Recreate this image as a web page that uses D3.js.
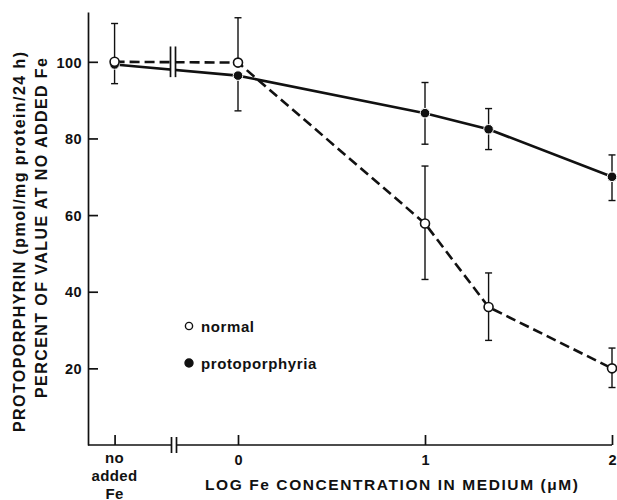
<!DOCTYPE html>
<html>
<head>
<meta charset="utf-8">
<script src="https://d3js.org/d3.v7.min.js"></script>
<style>
  body { margin: 0; background: #fff; }
  text { font-family: "Liberation Sans", Arial, sans-serif; font-weight: bold; fill: #111; }
  .axis path, .axis line { stroke: #111; stroke-width: 1.7; }
</style>
</head>
<body>
<div id="chart"></div>
<script>
// log Fe concentration; null = "no added Fe"
var xVals = [null, 0, 1, 1.34, 2];
var normal = [100, 99.8, 57.8, 36, 20];
var normalHi = [110, 111.5, 72.8, 44.9, 25.3];
var normalLo = [100, 99.8, 43.2, 27.3, 15];
var proto = [99.3, 96.4, 86.6, 82.4, 70];
var protoHi = [99.3, 96.4, 94.6, 87.8, 75.7];
var protoLo = [94.3, 87.2, 78.5, 77.1, 63.8];
var yTicks = [20, 40, 60, 80, 100];
var xTicks = [0, 1, 2];
var noAddedAt = -0.66;

var W = 617, H = 500;
var svg = d3.select("#chart").append("svg").attr("width", W).attr("height", H);

var x = d3.scaleLinear().domain([0, 2]).range([238, 612]);
var y = d3.scaleLinear().domain([0, 113]).range([445, 12]);
function xp(v) { return x(v === null ? noAddedAt : v); }

// y axis
svg.append("g").attr("class", "axis").attr("transform", "translate(88,0)")
  .call(d3.axisLeft(y).tickValues(yTicks).tickSize(-10).tickSizeOuter(0).tickPadding(6))
  .call(function(g) {
    g.selectAll("text").style("font-size", "14.5px").attr("dy", "0.36em").attr("letter-spacing", "0.4");
  });

// x axis
var xa = svg.append("g").attr("class", "axis").attr("transform", "translate(0,445)")
  .call(d3.axisBottom(x).tickValues([noAddedAt].concat(xTicks)).tickSize(-10).tickSizeOuter(0)
    .tickFormat(function(d) { return d === noAddedAt ? "" : d; }));
xa.select(".domain").attr("d", "M88,0H612");
xa.selectAll("text").style("font-size", "14.5px").attr("y", 20).attr("dy", 0);

// "no added Fe"
["no", "added", "Fe"].forEach(function(s, i) {
  svg.append("text").attr("x", xp(null)).attr("y", 463 + i * 18)
    .attr("text-anchor", "middle").style("font-size", "15px").attr("letter-spacing", "0.4").text(s);
});

// axis titles
svg.append("text").attr("x", 205).attr("y", 490)
  .style("font-size", "15.5px").attr("textLength", 373).attr("lengthAdjust", "spacing")
  .text("LOG Fe CONCENTRATION IN MEDIUM (\u03bcM)");
svg.append("text").attr("transform", "translate(25,432) rotate(-90)")
  .style("font-size", "16px").attr("textLength", 380).attr("lengthAdjust", "spacing")
  .text("PROTOPORPHYRIN (pmol/mg protein/24 h)");
svg.append("text").attr("transform", "translate(47,398) rotate(-90)")
  .style("font-size", "16px").attr("textLength", 340).attr("lengthAdjust", "spacing")
  .text("PERCENT OF VALUE AT NO ADDED Fe");

// lines
var line = d3.line().x(function(d, i) { return xp(xVals[i]); }).y(function(d) { return y(d); });
svg.append("path").datum(proto).attr("d", line).attr("fill", "none")
  .attr("stroke", "#111").attr("stroke-width", 2.6);
svg.append("path").datum(normal).attr("d", line).attr("fill", "none")
  .attr("stroke", "#111").attr("stroke-width", 2.6).attr("stroke-dasharray", "10,5");

// error bars
function errBars(hi, lo) {
  var g = svg.append("g").attr("stroke", "#111").attr("stroke-width", 1.4);
  xVals.forEach(function(v, i) {
    var cx = xp(v);
    if (hi[i] === lo[i]) return;
    g.append("line").attr("x1", cx).attr("x2", cx).attr("y1", y(hi[i])).attr("y2", y(lo[i]));
    g.append("line").attr("x1", cx - 3.5).attr("x2", cx + 3.5).attr("y1", y(hi[i])).attr("y2", y(hi[i]));
    g.append("line").attr("x1", cx - 3.5).attr("x2", cx + 3.5).attr("y1", y(lo[i])).attr("y2", y(lo[i]));
  });
}
errBars(normalHi, normalLo);
errBars(protoHi, protoLo);

// axis break marks
function breakMark(bx, y1, y2) {
  svg.append("rect").attr("x", bx - 2.5).attr("y", y1).attr("width", 5).attr("height", y2 - y1).attr("fill", "#fff");
  [bx - 2.5, bx + 2.5].forEach(function(px) {
    svg.append("line").attr("x1", px).attr("x2", px).attr("y1", y1).attr("y2", y2)
      .attr("stroke", "#111").attr("stroke-width", 1.7);
  });
}
breakMark(174, 437, 453);
breakMark(173, y(104), y(96));

// markers
svg.selectAll(".pf").data(proto).enter().append("circle")
  .attr("cx", function(d, i) { return xp(xVals[i]); }).attr("cy", function(d) { return y(d); })
  .attr("r", 4.8).attr("fill", "#111").attr("stroke", "#fff").attr("stroke-width", 1);
svg.selectAll(".po").data(normal).enter().append("circle")
  .attr("cx", function(d, i) { return xp(xVals[i]); }).attr("cy", function(d) { return y(d); })
  .attr("r", 4.5).attr("fill", "#fff").attr("stroke", "#111").attr("stroke-width", 1.6);

// legend
var legend = [["normal", false], ["protoporphyria", true]];
legend.forEach(function(d, i) {
  var ly = 326 + i * 37;
  svg.append("circle").attr("cx", 189).attr("cy", ly).attr("r", d[1] ? 4 : 3.6)
    .attr("fill", d[1] ? "#111" : "#fff").attr("stroke", "#111").attr("stroke-width", 1.4);
  svg.append("text").attr("x", 201).attr("y", ly + 6).style("font-size", "15px")
    .attr("letter-spacing", "0.6").text(d[0]);
});
</script>
</body>
</html>
